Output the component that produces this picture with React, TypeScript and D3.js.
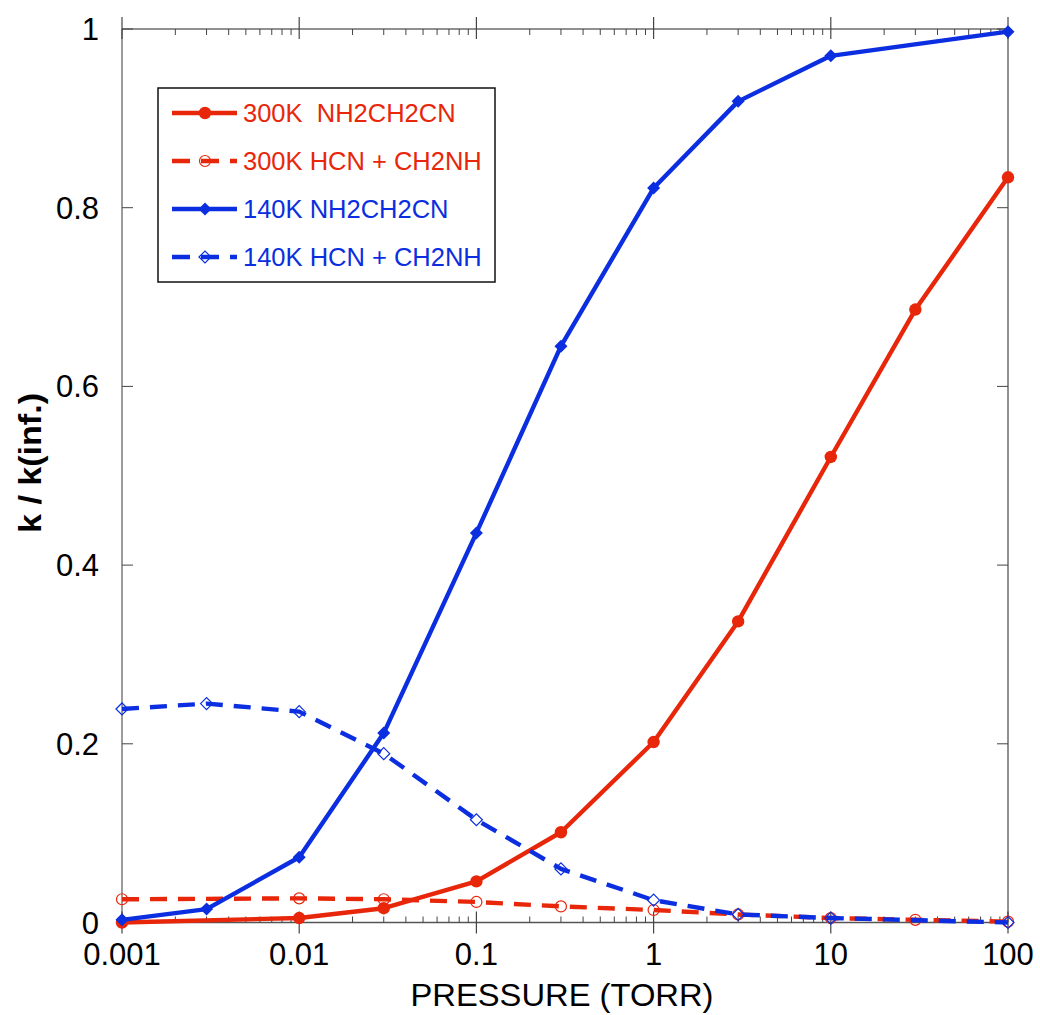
import React from "react";
import * as d3 from "d3";

const red300SolidP = [0.001, 0.01, 0.03, 0.1, 0.3, 1, 3, 10, 30, 100];
const red300SolidV = [0.0, 0.005, 0.016, 0.046, 0.101, 0.202, 0.337, 0.521, 0.686, 0.834];
const red300DashP = [0.001, 0.01, 0.03, 0.1, 0.3, 1, 3, 10, 30, 100];
const red300DashV = [0.026, 0.027, 0.026, 0.023, 0.018, 0.014, 0.009, 0.005, 0.003, 0.001];
const blue140SolidP = [0.001, 0.003, 0.01, 0.03, 0.1, 0.3, 1, 3, 10, 100];
const blue140SolidV = [0.003, 0.015, 0.073, 0.212, 0.436, 0.645, 0.822, 0.919, 0.97, 0.997];
const blue140DashP = [0.001, 0.003, 0.01, 0.03, 0.1, 0.3, 1, 3, 10, 100];
const blue140DashV = [0.239, 0.245, 0.236, 0.189, 0.115, 0.06, 0.025, 0.009, 0.005, 0.0];

const xTickVals = [0.001, 0.01, 0.1, 1, 10, 100];
const xTickLabels = ["0.001", "0.01", "0.1", "1", "10", "100"];
const yTickVals = [0, 0.2, 0.4, 0.6, 0.8, 1];
const yTickLabels = ["0", "0.2", "0.4", "0.6", "0.8", "1"];

const legendLabels = ["300K  NH2CH2CN", "300K HCN + CH2NH", "140K NH2CH2CN", "140K HCN + CH2NH"];

const RED = "#e8260a";
const BLUE = "#0a2ee0";
const FONT = "'Liberation Sans', Arial, Helvetica, sans-serif";

type Marker = "circleFill" | "circleOpen" | "diamondFill" | "diamondOpen";

function MarkerShape({ x, y, type, color }: { x: number; y: number; type: Marker; color: string }) {
  if (type === "circleFill") return <circle cx={x} cy={y} r={6.2} fill={color} />;
  if (type === "circleOpen") return <circle cx={x} cy={y} r={5.5} fill="none" stroke={color} strokeWidth={1.2} />;
  if (type === "diamondFill") {
    const s = 6.5;
    return <path d={`M${x - s},${y}L${x},${y - s}L${x + s},${y}L${x},${y + s}Z`} fill={color} />;
  }
  const s = 6;
  return <path d={`M${x - s},${y}L${x},${y - s}L${x + s},${y}L${x},${y + s}Z`} fill="none" stroke={color} strokeWidth={1.2} />;
}

export default function App() {
  const left = 122, right = 1008, top = 29, bottom = 922.5;
  const x = d3.scaleLog().domain([0.001, 100]).range([left, right]);
  const y = d3.scaleLinear().domain([0, 1]).range([bottom, top]);
  const line = d3.line<[number, number]>().x((d) => x(d[0])).y((d) => y(d[1]));

  const series = [
    { P: red300DashP, V: red300DashV, color: RED, dash: "17,11", marker: "circleOpen" as Marker },
    { P: red300SolidP, V: red300SolidV, color: RED, dash: undefined, marker: "circleFill" as Marker },
    { P: blue140DashP, V: blue140DashV, color: BLUE, dash: "17,11", marker: "diamondOpen" as Marker },
    { P: blue140SolidP, V: blue140SolidV, color: BLUE, dash: undefined, marker: "diamondFill" as Marker },
  ];

  const minorTicks: number[] = [];
  for (let e = -3; e < 2; e++) {
    for (let m = 2; m <= 9; m++) minorTicks.push(m * Math.pow(10, e));
  }

  const legendItems = [
    { color: RED, dash: undefined, marker: "circleFill" as Marker },
    { color: RED, dash: "18,11", marker: "circleOpen" as Marker },
    { color: BLUE, dash: undefined, marker: "diamondFill" as Marker },
    { color: BLUE, dash: "18,11", marker: "diamondOpen" as Marker },
  ];
  const legendYs = [113, 161, 209, 257];

  return (
    <svg width={1040} height={1015} style={{ position: "absolute", left: 0, top: 0, background: "#fff" }} fontFamily={FONT}>
      <rect x={0} y={0} width={1040} height={1015} fill="#fff" />
      {/* frame */}
      <line x1={left} y1={top} x2={right} y2={top} stroke="#222" strokeWidth={1} />
      <line x1={left} y1={bottom} x2={right} y2={bottom} stroke="#555" strokeWidth={1.3} />
      <line x1={left} y1={top} x2={left} y2={bottom} stroke="#666" strokeWidth={1.3} />
      <line x1={right} y1={top} x2={right} y2={bottom} stroke="#222" strokeWidth={1} />

      {/* x major ticks */}
      {xTickVals.map((v, i) => (
        <g key={"xt" + i}>
          <line x1={x(v)} x2={x(v)} y1={bottom - 11} y2={bottom + 11} stroke="#444" strokeWidth={1.2} />
          <line x1={x(v)} x2={x(v)} y1={top - 12} y2={top + 10} stroke="#444" strokeWidth={1.2} />
          <text x={x(v)} y={965} textAnchor="middle" fontSize={31} fill="#000">
            {xTickLabels[i]}
          </text>
        </g>
      ))}
      {minorTicks.map((v, i) => (
        <g key={"mt" + i}>
          <line x1={x(v)} x2={x(v)} y1={bottom - 6} y2={bottom} stroke="#444" strokeWidth={1} />
          <line x1={x(v)} x2={x(v)} y1={top} y2={top + 6} stroke="#444" strokeWidth={1} />
        </g>
      ))}
      {/* y ticks */}
      {yTickVals.map((v, i) => (
        <g key={"yt" + i}>
          <line x1={left} x2={left + 11} y1={y(v)} y2={y(v)} stroke="#444" strokeWidth={1} />
          <line x1={right - 11} x2={right} y1={y(v)} y2={y(v)} stroke="#444" strokeWidth={1} />
          <text x={99} y={y(v) + 11} textAnchor="end" fontSize={31} fill="#000">
            {yTickLabels[i]}
          </text>
        </g>
      ))}

      {/* axis titles */}
      <text x={562} y={1006} textAnchor="middle" fontSize={31.5} textLength={303} lengthAdjust="spacingAndGlyphs" fill="#000">
        PRESSURE (TORR)
      </text>
      <text
        transform={`translate(41,463) rotate(-90)`}
        textAnchor="middle"
        fontSize={31}
        fontWeight="bold"
        textLength={140}
        lengthAdjust="spacingAndGlyphs"
        fill="#000"
      >
        k / k(inf.)
      </text>

      {/* series */}
      {series.map((s, i) => {
        const pts: [number, number][] = s.P.map((p, j) => [p, s.V[j]]);
        return (
          <g key={"s" + i}>
            <path d={line(pts) || ""} fill="none" stroke={s.color} strokeWidth={4.4} strokeDasharray={s.dash} strokeLinejoin="round" />
            {pts.map((d, j) => (
              <MarkerShape key={j} x={x(d[0])} y={y(d[1])} type={s.marker} color={s.color} />
            ))}
          </g>
        );
      })}

      {/* legend */}
      <rect x={158} y={88} width={337} height={194} fill="#fff" stroke="#111" strokeWidth={1.5} />
      {legendItems.map((it, i) => (
        <g key={"lg" + i}>
          <line x1={172} x2={237} y1={legendYs[i]} y2={legendYs[i]} stroke={it.color} strokeWidth={4.4} strokeDasharray={it.dash} />
          <MarkerShape x={205} y={legendYs[i]} type={it.marker} color={it.color} />
          <text x={243} y={legendYs[i] + 9} fontSize={25.5} fill={it.color} style={{ whiteSpace: "pre" }} xmlSpace="preserve">
            {legendLabels[i]}
          </text>
        </g>
      ))}
    </svg>
  );
}
